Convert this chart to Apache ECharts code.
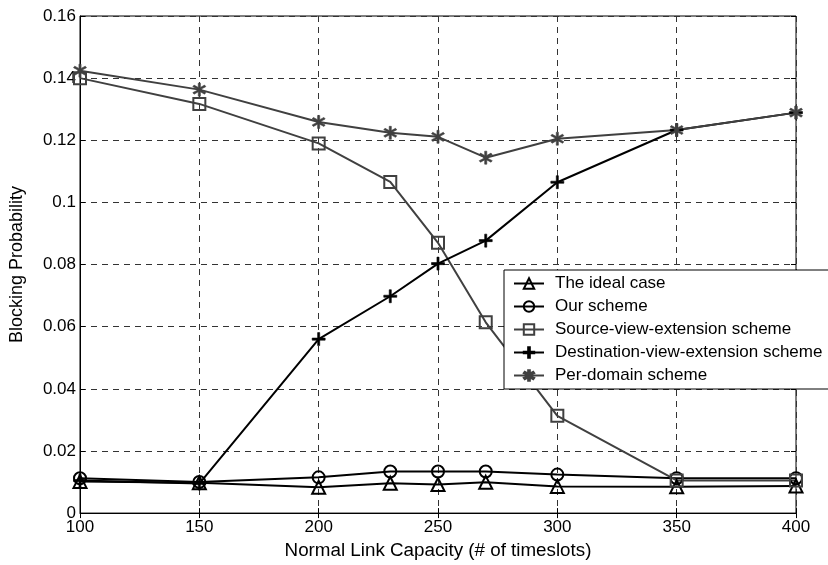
<!DOCTYPE html>
<html>
<head>
<meta charset="utf-8">
<script src="https://cdn.jsdelivr.net/npm/echarts@6/dist/echarts.min.js"></script>
<style>
html,body{margin:0;padding:0;background:#fff;}
#chart{width:828px;height:565px;}
</style>
</head>
<body>
<div id="chart"></div>
<script>
var capacity = [100, 150, 200, 230, 250, 270, 300, 350, 400];
var idealCase = [0.0102, 0.0098, 0.0083, 0.0096, 0.0092, 0.0099, 0.0086, 0.0085, 0.0087];
var ourScheme = [0.0112, 0.0100, 0.0115, 0.0134, 0.0134, 0.0134, 0.0124, 0.0112, 0.0112];
var sourceView = [0.1400, 0.1317, 0.1190, 0.1066, 0.0870, 0.0614, 0.0313, 0.0105, 0.0105];
var destView = [0.0105, 0.0095, 0.0560, 0.0698, 0.0803, 0.0877, 0.1065, 0.1233, 0.1289];
var perDomain = [0.1424, 0.1363, 0.1259, 0.1224, 0.1211, 0.1144, 0.1205, 0.1233, 0.1289];
var seriesNames = ['The ideal case', 'Our scheme', 'Source-view-extension scheme', 'Destination-view-extension scheme', 'Per-domain scheme'];
var xTicks = [100, 150, 200, 250, 300, 350, 400];
var yTicks = [0, 0.02, 0.04, 0.06, 0.08, 0.1, 0.12, 0.14, 0.16];

function pairs(vals) { return capacity.map(function (c, i) { return [c, vals[i]]; }); }

var FONT = 'Liberation Sans, Arial, sans-serif';
var PLUS = 'path://M0,4.2 L10,4.2 L10,5.8 L0,5.8 Z M4.2,0 L5.8,0 L5.8,10 L4.2,10 Z';
var STAR = 'path://M4.3,0 L5.7,0 L5.7,3.3 L8.5,1.5 L9.3,2.7 L6.5,4.4 L6.5,5.6 L9.3,7.3 L8.5,8.5 L5.7,6.7 L5.7,10 L4.3,10 L4.3,6.7 L1.5,8.5 L0.7,7.3 L3.5,5.6 L3.5,4.4 L0.7,2.7 L1.5,1.5 L4.3,3.3 Z';

function mkSeries(name, vals, color, symbol, size, hollow) {
  return {
    name: name,
    type: 'line',
    data: pairs(vals),
    symbol: symbol,
    symbolSize: size,
    showSymbol: true,
    animation: false,
    lineStyle: { color: color, width: 2 },
    itemStyle: hollow
      ? { color: 'rgba(255,255,255,0)', borderColor: color, borderWidth: 2 }
      : { color: color, borderColor: color, borderWidth: 0.6 },
    emphasis: { disabled: true }
  };
}

var splitStyle = { show: true, lineStyle: { color: '#333', type: [6, 5], width: 1 } };

var option = {
  backgroundColor: '#fff',
  animation: false,
  grid: { left: 79, right: 32, top: 16, bottom: 49, show: true, borderColor: '#000', borderWidth: 1, backgroundColor: 'transparent' },
  legend: {
    orient: 'vertical',
    left: 504,
    top: 270,
    padding: [5, 40, 5, 9],
    itemGap: 6,
    itemWidth: 30,
    itemHeight: 13,
    backgroundColor: '#fff',
    borderColor: '#000',
    borderWidth: 1,
    borderRadius: 0,
    z: 10,
    data: seriesNames,
    textStyle: { fontFamily: FONT, fontSize: 17, color: '#000', lineHeight: 17, padding: [0, 0, 0, 6] },
    selectedMode: false
  },
  xAxis: [{
    type: 'value', min: 100, max: 400, interval: 50,
    name: 'Normal Link Capacity (# of timeslots)', nameLocation: 'middle', nameGap: 22,
    nameTextStyle: { fontFamily: FONT, fontSize: 18.8, color: '#000' },
    axisLine: { show: true, lineStyle: { color: '#000', width: 1 } },
    axisTick: { show: true, inside: true, length: 5, lineStyle: { color: '#000' } },
    axisLabel: { fontFamily: FONT, fontSize: 17, color: '#000', margin: 6,
      formatter: function (v) { return xTicks.indexOf(v) >= 0 ? String(v) : ''; } },
    splitLine: splitStyle
  }, {
    type: 'value', min: 100, max: 400, interval: 50, position: 'top',
    axisLine: { show: false }, axisLabel: { show: false }, splitLine: { show: false },
    axisTick: { show: true, inside: true, length: 5, lineStyle: { color: '#000' } }
  }],
  yAxis: [{
    type: 'value', min: 0, max: 0.16, interval: 0.02,
    name: 'Blocking Probability', nameLocation: 'middle', nameGap: 54,
    nameTextStyle: { fontFamily: FONT, fontSize: 18, color: '#000' },
    axisLine: { show: true, lineStyle: { color: '#000', width: 1 } },
    axisTick: { show: true, inside: true, length: 5, lineStyle: { color: '#000' } },
    axisLabel: { fontFamily: FONT, fontSize: 17, color: '#000', margin: 4,
      formatter: function (v) {
        for (var i = 0; i < yTicks.length; i++) { if (Math.abs(yTicks[i] - v) < 1e-9) return String(yTicks[i]); }
        return '';
      } },
    splitLine: splitStyle
  }, {
    type: 'value', min: 0, max: 0.16, interval: 0.02, position: 'right',
    axisLine: { show: false }, axisLabel: { show: false }, splitLine: { show: false },
    axisTick: { show: true, inside: true, length: 5, lineStyle: { color: '#000' } }
  }],
  series: [
    mkSeries(seriesNames[0], idealCase, '#000', 'triangle', 13, true),
    mkSeries(seriesNames[1], ourScheme, '#000', 'circle', 12, true),
    mkSeries(seriesNames[2], sourceView, '#404040', 'rect', 12, true),
    mkSeries(seriesNames[3], destView, '#000', PLUS, 13, false),
    mkSeries(seriesNames[4], perDomain, '#404040', STAR, 13, false)
  ]
};

var chart = echarts.init(document.getElementById('chart'), null, { renderer: 'canvas' });
chart.setOption(option);
</script>
</body>
</html>
